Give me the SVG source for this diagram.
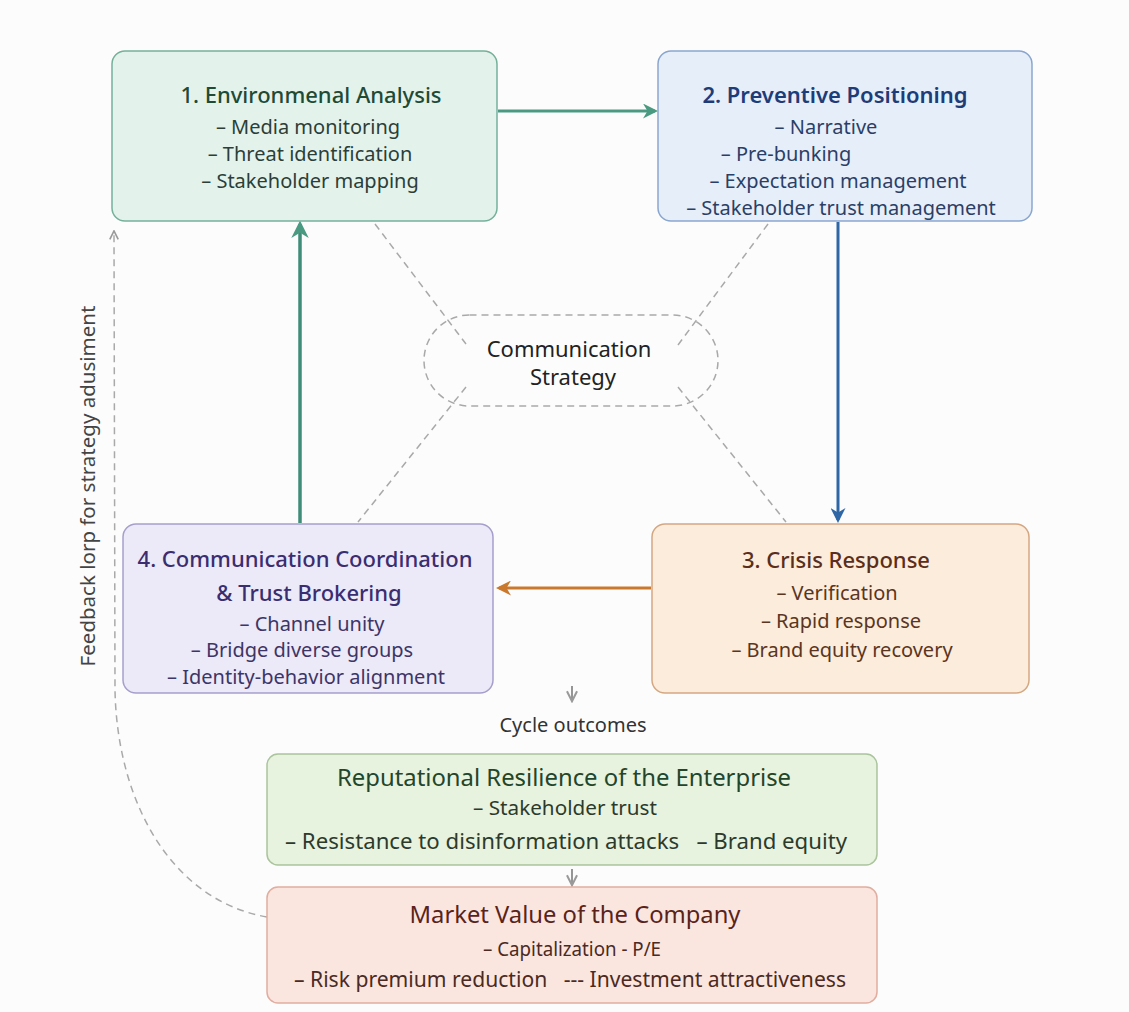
<svg xmlns="http://www.w3.org/2000/svg" width="1129" height="1012" viewBox="0 0 1129 1012">
<defs>
<style>
text{font-family:"Noto Sans","Open Sans","Liberation Sans",sans-serif;text-anchor:middle}
.t{font-size:22px;font-weight:500}
.i{font-size:20px}
.dash{fill:none;stroke:#a9a9a9;stroke-width:1.5;stroke-dasharray:7 5}
</style>
<marker id="aTeal" viewBox="0 0 10 10" refX="8" refY="5" markerWidth="5" markerHeight="5" orient="auto-start-reverse"><path d="M0,0 L10,5 L0,10 L3,5 Z" fill="#4a9a82"/></marker>
<marker id="aBlue" viewBox="0 0 10 10" refX="8" refY="5" markerWidth="5" markerHeight="5" orient="auto-start-reverse"><path d="M0,0 L10,5 L0,10 L3,5 Z" fill="#2f67a6"/></marker>
<marker id="aOrange" viewBox="0 0 10 10" refX="8" refY="5" markerWidth="5" markerHeight="5" orient="auto-start-reverse"><path d="M0,0 L10,5 L0,10 L3,5 Z" fill="#c9782c"/></marker>
<marker id="aGray" viewBox="0 0 10 10" refX="8" refY="5" markerWidth="7" markerHeight="7" orient="auto-start-reverse"><path d="M1,1 L9,5 L1,9" fill="none" stroke="#9a9a9a" stroke-width="1.6"/></marker>
</defs>
<rect width="1129" height="1012" fill="#fcfcfc"/>

<g id="connectors">
<line class="dash" x1="375" y1="224" x2="466" y2="344"/>
<line class="dash" x1="768" y1="224" x2="678" y2="345"/>
<line class="dash" x1="466" y1="387" x2="358" y2="522"/>
<line class="dash" x1="678" y1="387" x2="786" y2="522"/>
<line x1="498" y1="111" x2="655" y2="111" stroke="#4a9a82" stroke-width="3" marker-end="url(#aTeal)"/>
<line x1="838" y1="222" x2="838" y2="520" stroke="#2f67a6" stroke-width="3" marker-end="url(#aBlue)"/>
<line x1="651" y1="588" x2="499" y2="588" stroke="#c9782c" stroke-width="3" marker-end="url(#aOrange)"/>
<line x1="300" y1="523" x2="300" y2="224" stroke="#3f8c78" stroke-width="3.5" marker-end="url(#aTeal)"/>
<line x1="572" y1="686" x2="572" y2="700" stroke="#8a8a8a" stroke-width="1.8" marker-end="url(#aGray)"/>
<line x1="572" y1="869" x2="572" y2="884" stroke="#8a8a8a" stroke-width="1.8" marker-end="url(#aGray)"/>
<path class="dash" d="M267,917 C170,900 117,800 115,690 L114,232" marker-end="url(#aGray)"/>
</g>

<g id="strategy">
<rect x="424" y="315" width="294" height="91" rx="45.5" ry="45.5" class="dash"/>
<text x="569" y="357" font-size="22" fill="#222">Communication</text>
<text x="573" y="385" font-size="22" fill="#222">Strategy</text>
</g>

<g id="node1">
<rect x="112" y="51" width="385" height="170" rx="13" fill="#e3f3ec" stroke="#75b09a" stroke-width="1.5"/>
<text class="t" x="311" y="103" fill="#1f4a36">1. Environmenal Analysis</text>
<text class="i" x="308" y="134" fill="#2c3e38">– Media monitoring</text>
<text class="i" x="310" y="161" fill="#2c3e38">– Threat identification</text>
<text class="i" x="310" y="188" fill="#2c3e38">– Stakeholder mapping</text>
</g>

<g id="node2">
<rect x="658" y="51" width="374" height="170" rx="13" fill="#e6eefa" stroke="#8aa6cf" stroke-width="1.5"/>
<text x="835" y="103" font-size="22" font-weight="600" fill="#1e3d78">2. Preventive Positioning</text>
<text class="i" x="826" y="134" fill="#2b3f66">– Narrative</text>
<text class="i" x="786" y="161" fill="#2b3f66">– Pre-bunking</text>
<text class="i" x="838" y="188" fill="#2b3f66">– Expectation management</text>
<text class="i" x="841" y="215" fill="#2b3f66">– Stakeholder trust management</text>
</g>

<g id="node3">
<rect x="652" y="524" width="377" height="169" rx="13" fill="#fcecdb" stroke="#d4a783" stroke-width="1.5"/>
<text class="t" x="836" y="568" fill="#5a2e1a">3. Crisis Response</text>
<text class="i" x="837" y="600" fill="#5a3522" font-size="20.5">– Verification</text>
<text class="i" x="841" y="628" fill="#5a3522" font-size="20.5">– Rapid response</text>
<text class="i" x="842" y="657" fill="#5a3522" font-size="20.5">– Brand equity recovery</text>
</g>

<g id="node4">
<rect x="123" y="524" width="370" height="169" rx="13" fill="#ece9f8" stroke="#a79fcb" stroke-width="1.5"/>
<text class="t" x="305" y="567" fill="#3a2d70">4. Communication Coordination</text>
<text class="t" x="309" y="601" fill="#3a2d70">&amp; Trust Brokering</text>
<text class="i" x="312" y="631" fill="#3d3566">– Channel unity</text>
<text class="i" x="302" y="657" fill="#3d3566">– Bridge diverse groups</text>
<text class="i" x="306" y="684" fill="#3d3566">– Identity-behavior alignment</text>
</g>

<g id="outcomes-label">
<text x="573" y="732" font-size="20" fill="#333">Cycle outcomes</text>
</g>

<g id="resilience">
<rect x="267" y="754" width="610" height="111" rx="11" fill="#e7f2df" stroke="#aac49c" stroke-width="1.5"/>
<text x="564" y="786" font-size="23" textLength="454" lengthAdjust="spacingAndGlyphs" fill="#23452a">Reputational Resilience of the Enterprise</text>
<text class="i" x="565" y="815" fill="#2c3a2c" textLength="184" lengthAdjust="spacingAndGlyphs">– Stakeholder trust</text>
<text x="566" y="849" font-size="21.5" fill="#2c3a2c" xml:space="preserve" textLength="562" lengthAdjust="spacingAndGlyphs">– Resistance to disinformation attacks   – Brand equity</text>
</g>

<g id="market">
<rect x="267" y="887" width="610" height="116" rx="11" fill="#fbe6df" stroke="#e1ad9f" stroke-width="1.5"/>
<text x="575" y="923" font-size="23" textLength="331" lengthAdjust="spacingAndGlyphs" fill="#5a231a">Market Value of the Company</text>
<text class="i" x="572" y="956" fill="#4a2a22" textLength="178" lengthAdjust="spacingAndGlyphs">– Capitalization - P/E</text>
<text x="570" y="987" font-size="21.5" fill="#4a2a22" xml:space="preserve" textLength="552" lengthAdjust="spacingAndGlyphs">– Risk premium reduction   --- Investment attractiveness</text>
</g>

<g id="feedback-label">
<text x="0" y="0" font-size="20.5" fill="#444" transform="translate(95,486) rotate(-90)">Feedback lorp for strategy adusiment</text>
</g>
</svg>
